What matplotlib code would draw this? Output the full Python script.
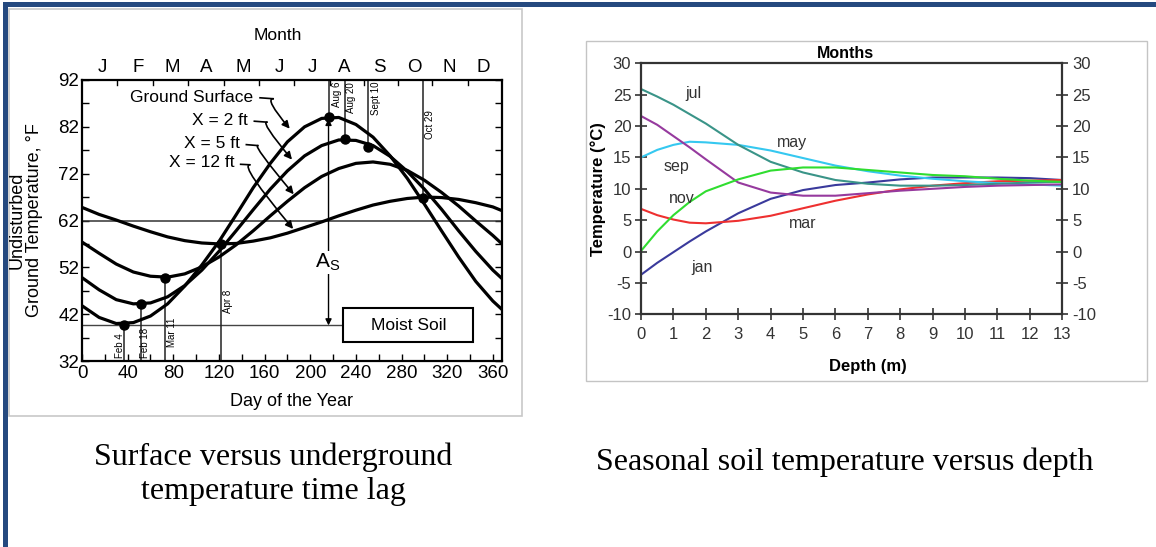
import matplotlib
matplotlib.use('Agg')
import matplotlib.pyplot as plt
from matplotlib.patches import Rectangle

plt.rcParams['font.family'] = ['Liberation Sans', 'DejaVu Sans']
plt.rcParams['axes.unicode_minus'] = False

# ---------------- left chart data ----------------
days = [0, 15, 30, 45, 60, 75, 90, 105, 120, 135, 150, 165, 180, 195, 210, 225,
        240, 255, 270, 285, 300, 315, 330, 345, 360, 368]
ground_surface = [43.8, 41.3, 40.0, 40.2, 41.6, 44.2, 48.0, 52.5, 57.5, 63.2, 69.0, 74.2,
                  78.8, 82.0, 83.8, 84.0, 82.5, 79.8, 75.8, 71.0, 65.5, 59.8, 54.2, 49.0,
                  44.8, 43.0]
depth_2ft = [49.8, 47.2, 45.1, 44.2, 44.4, 45.7, 48.1, 51.4, 55.4, 59.8, 64.3, 68.7,
             72.6, 75.8, 78.0, 79.2, 79.1, 78.0, 75.7, 72.5, 68.7, 64.4, 59.8, 55.4,
             51.4, 49.6]
depth_5ft = [57.4, 55.0, 52.7, 51.0, 50.1, 49.9, 50.6, 52.1, 54.2, 56.8, 59.8, 63.0,
             66.1, 69.0, 71.4, 73.1, 74.2, 74.5, 74.0, 72.7, 70.6, 68.0, 65.1, 61.9,
             58.8, 57.0]
depth_12ft = [64.8, 63.3, 62.1, 60.8, 59.6, 58.5, 57.7, 57.2, 57.0, 57.1, 57.6, 58.3,
              59.3, 60.5, 61.7, 63.0, 64.2, 65.3, 66.1, 66.7, 67.0, 66.9, 66.5, 65.8,
              64.9, 64.1]
curve_labels = ['Ground Surface', 'X = 2 ft', 'X = 5 ft', 'X = 12 ft']

month_letters = ['J', 'F', 'M', 'A', 'M', 'J', 'J', 'A', 'S', 'O', 'N', 'D']
month_letter_days = [18, 49, 79, 109, 141, 173, 202, 230, 261, 291, 322, 352]
month_boundary_days = [31, 62, 93, 124, 155, 186, 217, 247, 277, 307, 338]
left_yticks = [32, 42, 52, 62, 72, 82, 92]
left_xticks = [0, 40, 80, 120, 160, 200, 240, 280, 320, 360]

event_labels = ['Feb 4', 'Feb 18', 'Mar 11', 'Apr 8', 'Aug 6', 'Aug 20', 'Sept 10', 'Oct 29']
event_days = [37, 51.5, 73, 122, 216, 230, 251, 299]
event_temps = [39.7, 44.2, 49.8, 57.0, 84.0, 79.3, 77.6, 66.8]
mean_temp = 62
min_surface_temp = 39.6

# ---------------- right chart data ----------------
depths = [0, 0.5, 1, 1.5, 2, 3, 4, 5, 6, 7, 8, 9, 10, 11, 12, 13]
month_names = ['jan', 'mar', 'may', 'jul', 'sep', 'nov']
jan = [-3.7, -1.8, -0.1, 1.6, 3.2, 6.1, 8.4, 9.8, 10.6, 11.0, 11.5, 11.8, 11.8, 11.8, 11.7, 11.4]
mar = [6.8, 5.8, 5.1, 4.6, 4.5, 4.9, 5.7, 6.9, 8.1, 9.1, 9.9, 10.5, 10.9, 11.2, 11.3, 11.4]
may = [15.0, 16.2, 17.0, 17.5, 17.4, 17.0, 16.1, 14.9, 13.7, 12.8, 12.1, 11.6, 11.2, 10.9, 10.7, 10.5]
jul = [25.9, 24.7, 23.4, 21.9, 20.4, 17.0, 14.3, 12.6, 11.4, 10.8, 10.5, 10.5, 10.6, 10.8, 11.0, 11.1]
sep = [21.6, 20.2, 18.4, 16.6, 14.7, 11.0, 9.4, 8.9, 8.9, 9.3, 9.7, 10.0, 10.3, 10.5, 10.6, 10.7]
nov = [0.1, 3.2, 5.8, 7.9, 9.6, 11.5, 12.9, 13.4, 13.4, 13.0, 12.6, 12.2, 12.0, 11.6, 11.3, 11.1]
right_yticks = [-10, -5, 0, 5, 10, 15, 20, 25, 30]
right_xticks = list(range(0, 14))
series_colors = {'jan': '#3a3a9c', 'mar': '#ee3030', 'may': '#35c8f0',
                 'jul': '#3a9488', 'sep': '#963a9e', 'nov': '#30dd30'}

W, H = 1156, 547
fig = plt.figure(figsize=(W / 100, H / 100), dpi=100)

# background / frame axes in pixel coordinates
bg = fig.add_axes([0, 0, 1, 1], zorder=-5)
bg.set_xlim(0, W)
bg.set_ylim(H, 0)
bg.axis('off')
frame_blue = '#25497f'
bg.add_patch(Rectangle((3, 2), W - 3, 4.5, color=frame_blue, lw=0))
bg.add_patch(Rectangle((3, 2), 4.5, H, color=frame_blue, lw=0))
bg.add_patch(Rectangle((8.5, 8.5), 513, 407, fill=False, ec='#c8c8c8', lw=1.2))
bg.add_patch(Rectangle((586, 41), 561, 340, fill=False, ec='#c4c4c4', lw=1.0))

serif = ['Liberation Serif', 'DejaVu Serif']
bg.text(273, 457, 'Surface versus underground', family=serif, fontsize=23,
        ha='center', va='center')
bg.text(273, 491, 'temperature time lag', family=serif, fontsize=23,
        ha='center', va='center')
bg.text(845, 462, 'Seasonal soil temperature versus depth', family=serif, fontsize=23,
        ha='center', va='center')

# ---------------- left chart ----------------
ax = fig.add_axes([82 / W, 1 - 361 / H, 420 / W, 281 / H])
ax.set_xlim(0, 368)
ax.set_ylim(32, 92)
for s in ax.spines.values():
    s.set_linewidth(1.6)
ax.set_xticks(left_xticks)
ax.set_yticks(left_yticks)
ax.set_xticks([20, 60, 100, 140, 180, 220, 260, 300, 340], minor=True)
ax.set_yticks([37, 47, 57, 67, 77, 87], minor=True)
ax.tick_params(which='both', direction='in', top=False, right=True, labelsize=13.5,
               width=1.0, length=5, pad=3)
ax.tick_params(axis='y', pad=2)
for d in month_boundary_days:
    ax.plot([d, d], [92, 91.0], color='k', lw=1.0, clip_on=False)

lw_curve = 2.3
for series in (ground_surface, depth_2ft, depth_5ft, depth_12ft):
    ax.plot(days, series, color='k', lw=lw_curve, solid_joinstyle='round',
            solid_capstyle='butt', zorder=4)

ax.axhline(mean_temp, color='#333333', lw=1.1, zorder=2)
ax.plot([0, 229], [min_surface_temp, min_surface_temp], color='#444444', lw=1.0, zorder=2)

for i, (lab, d, t) in enumerate(zip(event_labels, event_days, event_temps)):
    if i < 4:
        ax.plot([d, d], [32, t], color='#222222', lw=1.1, zorder=2)
    else:
        ax.plot([d, d], [t, 92], color='#222222', lw=1.1, zorder=2)
ax.plot(event_days, event_temps, 'o', color='k', ms=6.5, zorder=5)

label_pos = [(33, 32.7, 'bottom'), (55.5, 32.7, 'bottom'), (78.5, 35.0, 'bottom'),
             (128, 42.3, 'bottom'), (223.5, 91.6, 'top'), (236, 91.6, 'top'),
             (258, 91.6, 'top'), (304.7, 85.6, 'top')]
for lab, (x, y, va) in zip(event_labels, label_pos):
    ax.text(x, y, lab, rotation=90, fontsize=7, ha='center', va=va, zorder=6)

# A_s amplitude arrow
ax.annotate('', xy=(216, event_temps[4] - 0.3), xytext=(216, min_surface_temp),
            arrowprops=dict(arrowstyle='<|-|>', color='k', lw=1.0,
                            mutation_scale=9, shrinkA=0, shrinkB=0), zorder=3)
ax.text(215, 53, r'$\mathregular{A_S}$', fontsize=15, ha='center', va='center',
        bbox=dict(fc='white', ec='none', pad=0.5), zorder=4)

# Moist soil box
ax.add_patch(Rectangle((229, 36.0), 114, 7.3, fill=True, fc='white', ec='k', lw=1.5, zorder=6))
ax.text(286, 39.6, 'Moist Soil', fontsize=12.5, ha='center', va='center', zorder=7)

# curve labels and leader arrows
lab_xy = [(149.5, 88.3), (145.4, 83.4), (138.4, 78.4), (134.0, 74.3)]
bend_start = [(156, 88.2), (151, 83.2), (144, 78.2), (139, 74.0)]
bend_end = [(167.5, 88.0), (162, 83.0), (154, 78.0), (147, 73.9)]
tips = [(182, 81.6), (184, 75.0), (185.5, 67.6), (185, 60.2)]
for lab, (lx, ly), b0, b1, tp in zip(curve_labels, lab_xy, bend_start, bend_end, tips):
    ax.text(lx, ly, lab, fontsize=12.5, ha='right', va='center', zorder=6)
    ax.plot([b0[0], b1[0]], [b0[1], b1[1]], color='k', lw=1.2, zorder=6)
    ax.annotate('', xy=tp, xytext=b1,
                arrowprops=dict(arrowstyle='-|>', color='k', lw=1.2, mutation_scale=11,
                                shrinkA=0, shrinkB=0,
                                connectionstyle='angle3,angleA=0,angleB=-50'), zorder=6)

for letter, d in zip(month_letters, month_letter_days):
    ax.text(d, 1.043, letter, transform=ax.get_xaxis_transform(), fontsize=13.5,
            ha='center', va='center')
bg.text(278, 35, 'Month', fontsize=12.5, ha='center', va='center')
bg.text(292, 402, 'Day of the Year', fontsize=13, ha='center', va='center')
bg.text(26, 220, 'Undisturbed\nGround Temperature, \u00b0F', fontsize=13, rotation=90,
        ha='center', va='center', linespacing=1.0)

# ---------------- right chart ----------------
ax2 = fig.add_axes([641 / W, 1 - 314.3 / H, 421.3 / W, 251 / H])
ax2.set_xlim(0, 13)
ax2.set_ylim(-10, 30)
for s in ax2.spines.values():
    s.set_linewidth(1.6)
    s.set_color('#333333')
ax2.set_xticks(right_xticks)
ax2.set_yticks(right_yticks)
ax2.tick_params(direction='inout', length=8, width=1.2, color='#333333',
                labelcolor='#333333', labelsize=12, left=True, right=True,
                labelright=True, top=False)
ax2.tick_params(axis='x', pad=5)
ax2.tick_params(axis='y', pad=3)
for name, vals in zip(month_names, (jan, mar, may, jul, sep, nov)):
    ax2.plot(depths, vals, color=series_colors[name], lw=1.5, solid_joinstyle='round')

txt_pos = {'jul': (1.62, 25.2), 'may': (4.65, 17.3), 'sep': (1.1, 13.5),
           'nov': (1.26, 8.5), 'mar': (5.0, 4.4), 'jan': (1.87, -2.6)}
for name in month_names:
    x, y = txt_pos[name]
    ax2.text(x, y, name, fontsize=11.5, color='#333333', ha='center', va='center')

bg.text(845, 53, 'Months', fontsize=11.5, fontweight='bold', ha='center', va='center')
bg.text(868, 366, 'Depth (m)', fontsize=12, fontweight='bold', ha='center', va='center')
bg.text(598, 189, 'Temperature (\u00b0C)', fontsize=12, fontweight='bold', rotation=90,
        ha='center', va='center')

fig.savefig('out.png', dpi=100)
